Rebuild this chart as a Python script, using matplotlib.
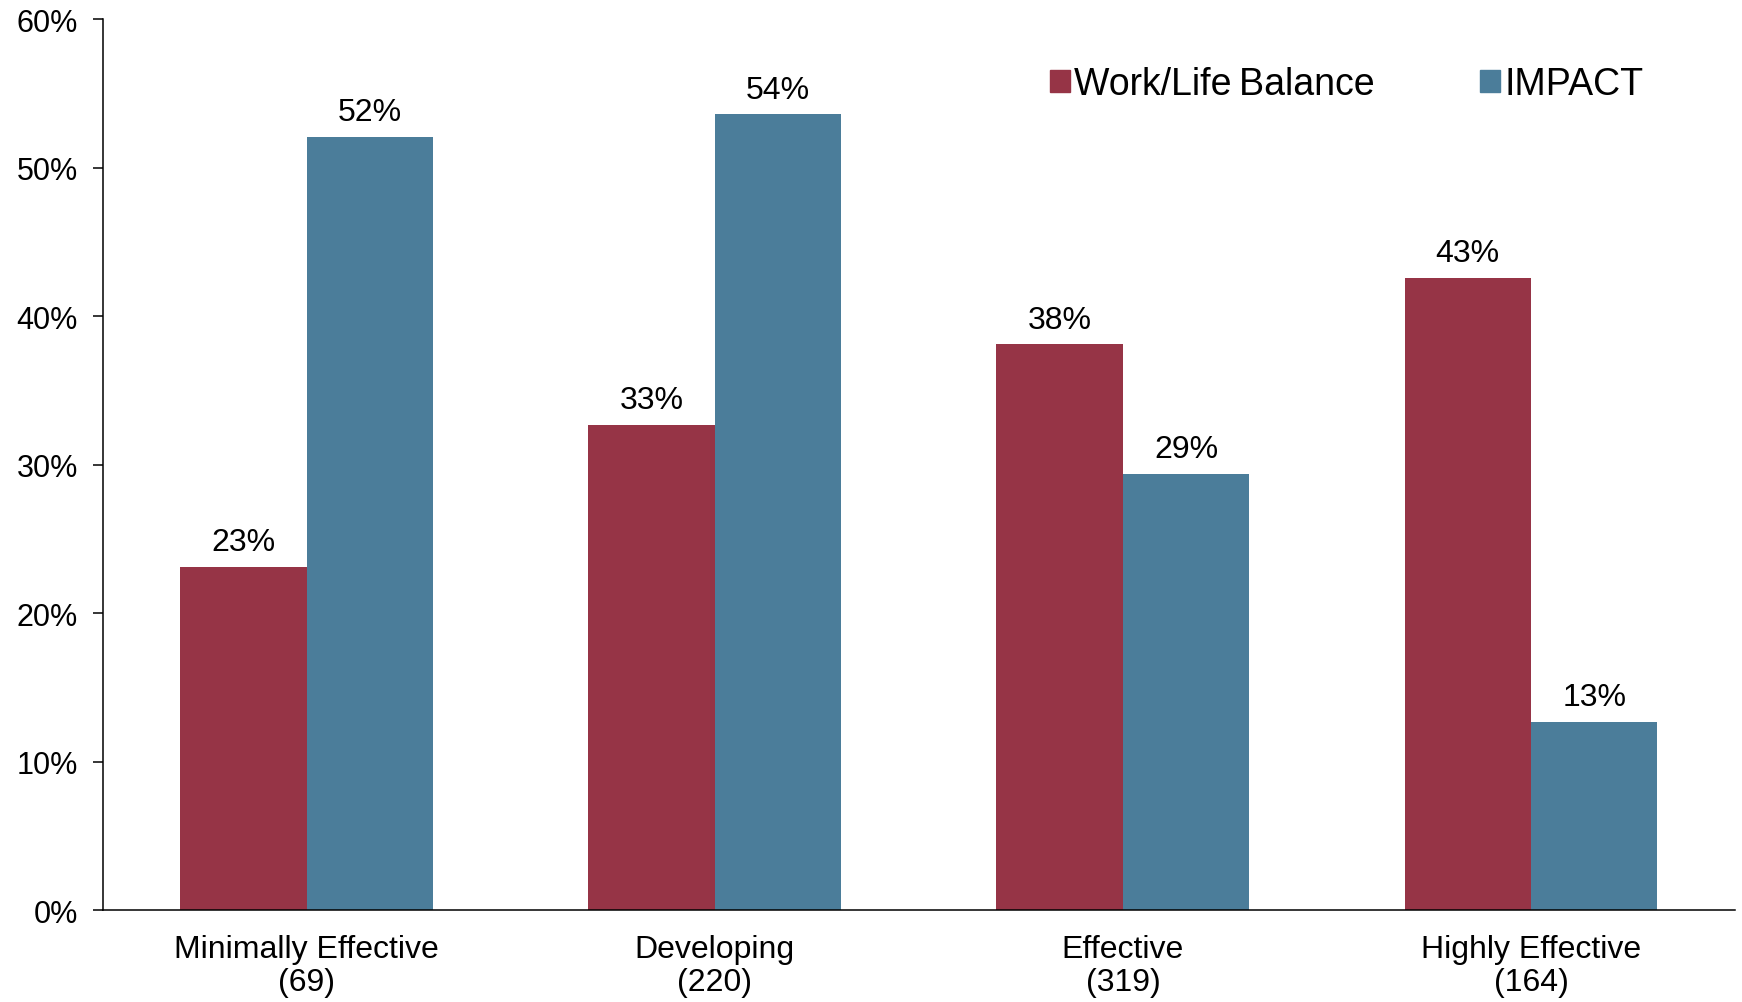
import numpy as np
import matplotlib
matplotlib.use('Agg')
import matplotlib.pyplot as plt
from matplotlib.patches import Patch

plt.rcParams['font.family'] = ['Liberation Sans', 'DejaVu Sans']

categories = ['Minimally Effective\n(69)', 'Developing\n(220)', 'Effective\n(319)', 'Highly Effective\n(164)']
work_life = [23.1, 32.7, 38.1, 42.6]
impact = [52.1, 53.6, 29.4, 12.7]
series_names = ['Work/Life\u2009Balance', 'IMPACT']

red = '#963446'
blue = '#4b7d9a'

fig = plt.figure(figsize=(17.42, 10.03), dpi=100)
ax = fig.add_axes([0.059, 0.0917, 0.937, 0.888])

x = np.arange(len(categories))
w = 0.31
b1 = ax.bar(x - w / 2, work_life, w, color=red)
b2 = ax.bar(x + w / 2, impact, w, color=blue)

# value labels over each bar
for bars, vals in ((b1, work_life), (b2, impact)):
    for rect, v in zip(bars, vals):
        ax.annotate(f'{round(v)}%', (rect.get_x() + rect.get_width() / 2, v),
                    xytext=(0, 12), textcoords='offset points',
                    ha='center', va='baseline', fontsize=23)

ax.set_xlim(-0.5, 3.5)
ax.set_ylim(0, 60)
ax.set_yticks(range(0, 61, 10))
ax.set_yticklabels([f'{t}%' for t in range(0, 61, 10)])
ax.set_xticks(x)
ax.set_xticklabels(categories, linespacing=1.15)

ax.tick_params(axis='y', length=7, width=1.1, labelsize=22, pad=11)
ax.tick_params(axis='x', length=0, labelsize=23, pad=17)

for s in ('top', 'right'):
    ax.spines[s].set_visible(False)
for s in ('left', 'bottom'):
    ax.spines[s].set_linewidth(1.1)
    ax.spines[s].set_color('black')

handles = [Patch(color=red), Patch(color=blue)]
ax.legend(handles, series_names, ncol=2, frameon=False, fontsize=27,
          handlelength=0.55, handleheight=0.55, handletextpad=0.1,
          columnspacing=2.8, loc='center left',
          bbox_to_anchor=(0.571, 0.927), borderaxespad=0)

fig.savefig('out.png', dpi=100)
